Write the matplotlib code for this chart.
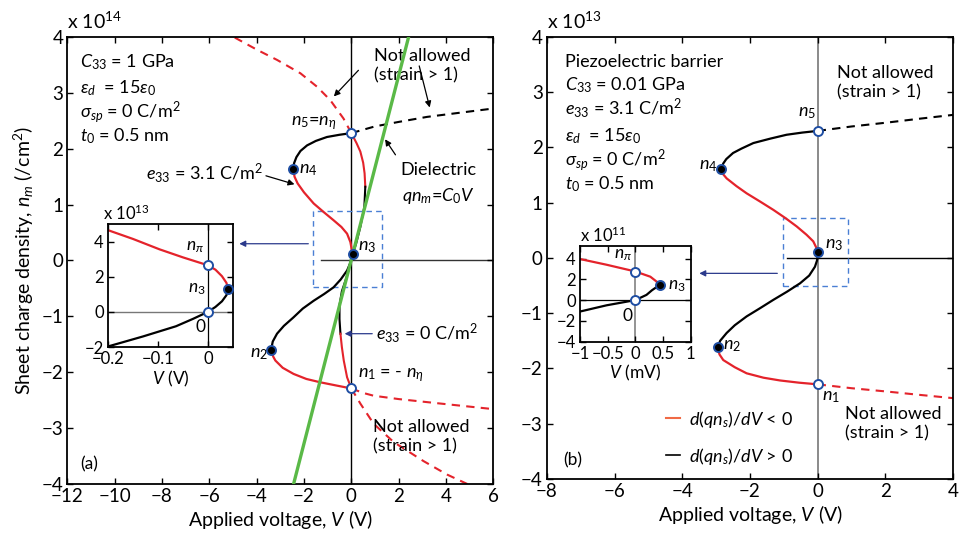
import matplotlib
matplotlib.use("Agg")
import matplotlib.pyplot as plt
from matplotlib.patches import Rectangle
from matplotlib.lines import Line2D

plt.rcParams['font.family'] = ['Lato', 'DejaVu Sans']
plt.rcParams['mathtext.fontset'] = 'custom'
plt.rcParams['mathtext.rm'] = 'Lato'
plt.rcParams['mathtext.it'] = 'Lato:italic'
plt.rcParams['mathtext.bf'] = 'Lato:bold'
plt.rcParams['mathtext.fallback'] = 'stixsans'

RED = '#e4232b'
BLUE = '#1f4ea3'
BOX = '#4a7fd4'
NAVY = '#2b3a8c'
GREEN = '#5ab947'

# ---------- panel (a): V in volts, n in 1e14 /cm^2 ----------
a_top_black_v = [0.0, -0.5, -1.03, -1.5, -1.87, -2.15, -2.32, -2.42, -2.45]
a_top_black_n = [2.28, 2.25, 2.21, 2.14, 2.06, 1.96, 1.85, 1.74, 1.63]
a_mid_red_v = [-2.45, -2.4, -2.27, -2.0, -1.59, -1.15, -0.75, -0.42, -0.18, -0.04, 0.05]
a_mid_red_n = [1.63, 1.5, 1.38, 1.22, 1.02, 0.86, 0.72, 0.6, 0.48, 0.33, 0.12]
a_low_black_v = [0.05, -0.05, -0.18, -0.45, -0.75, -1.15, -1.59, -2.05, -2.45, -2.85, -3.14, -3.32, -3.39]
a_low_black_n = [0.12, -0.05, -0.18, -0.34, -0.48, -0.6, -0.72, -0.86, -1.02, -1.17, -1.31, -1.45, -1.6]
a_bot_red_v = [-3.39, -3.3, -3.21, -2.9, -2.44, -1.9, -1.31, -0.6, 0.0]
a_bot_red_n = [-1.6, -1.72, -1.79, -1.92, -2.03, -2.12, -2.18, -2.24, -2.29]

# e33 = 0 curve
a0_top_red_v = [0.0, 0.22, 0.38, 0.5, 0.56, 0.59]
a0_top_red_n = [2.28, 2.1, 1.95, 1.75, 1.56, 1.32]
a0_black_v = [0.59, 0.55, 0.38, 0.2, 0.05, -0.2, -0.4, -0.5, -0.5, -0.46]
a0_black_n = [1.32, 0.96, 0.6, 0.3, 0.1, -0.3, -0.55, -0.8, -1.05, -1.31]
a0_bot_red_v = [-0.46, -0.4, -0.32, -0.18, 0.0]
a0_bot_red_n = [-1.31, -1.55, -1.79, -2.09, -2.29]

# not allowed branches
a_dash_black_v = [0.0, 1.0, 2.0, 3.2, 4.5, 6.0]
a_dash_black_n = [2.28, 2.4, 2.48, 2.57, 2.64, 2.72]
a_dash_red_up_v = [0.0, -0.33, -0.89, -1.45, -2.15, -3.14, -3.98, -4.97]
a_dash_red_up_n = [2.28, 2.54, 2.87, 3.11, 3.35, 3.59, 3.77, 4.0]
a_dash_red_r_v = [0.0, 0.5, 0.94, 2.0, 3.76, 6.0]
a_dash_red_r_n = [-2.29, -2.37, -2.42, -2.48, -2.56, -2.66]
a_dash_red_dn_v = [0.0, 0.38, 0.94, 1.79, 3.05, 4.04, 4.9]
a_dash_red_dn_n = [-2.29, -2.56, -2.92, -3.25, -3.59, -3.83, -4.0]

# dielectric line qn = C0 V
diel_v = [-2.44, 2.42]
diel_n = [-4.0, 4.0]

a_open_v = [0.0, 0.0]
a_open_n = [2.28, -2.29]
a_fill_v = [-2.45, 0.05, -3.39]
a_fill_n = [1.63, 0.12, -1.6]

# inset (a): V in volts, n in 1e13
ia_red_v = [-0.2, -0.15, -0.097, -0.05, 0.0, 0.015, 0.028, 0.037, 0.04]
ia_red_n = [4.65, 4.15, 3.56, 3.1, 2.65, 2.4, 2.03, 1.65, 1.31]
ia_black_v = [0.04, 0.037, 0.028, 0.015, 0.0, -0.03, -0.064, -0.13, -0.2]
ia_black_n = [1.31, 0.95, 0.6, 0.28, 0.0, -0.4, -0.82, -1.4, -1.97]
ia_open_v = [0.0, 0.0]
ia_open_n = [2.65, 0.0]
ia_fill_v = [0.04]
ia_fill_n = [1.31]

# ---------- panel (b): V in volts, n in 1e13 /cm^2 ----------
b_top_black_v = [0.0, -0.45, -0.92, -1.4, -1.9, -2.25, -2.5, -2.7, -2.79, -2.86]
b_top_black_n = [2.3, 2.27, 2.23, 2.16, 2.08, 1.98, 1.9, 1.79, 1.71, 1.61]
b_mid_red_v = [-2.86, -2.8, -2.69, -2.4, -2.1, -1.7, -1.31, -0.95, -0.62, -0.33, -0.13, 0.02]
b_mid_red_n = [1.61, 1.52, 1.44, 1.3, 1.17, 1.02, 0.87, 0.72, 0.57, 0.42, 0.3, 0.11]
b_low_black_v = [0.02, -0.02, -0.08, -0.25, -0.52, -0.9, -1.31, -1.7, -2.1, -2.45, -2.69, -2.88, -2.96]
b_low_black_n = [0.11, -0.05, -0.16, -0.32, -0.46, -0.61, -0.76, -0.91, -1.06, -1.22, -1.36, -1.5, -1.62]
b_bot_red_v = [-2.96, -2.9, -2.79, -2.45, -2.1, -1.6, -1.11, -0.55, 0.0]
b_bot_red_n = [-1.62, -1.75, -1.85, -1.98, -2.09, -2.17, -2.22, -2.26, -2.29]
b_dash_black_v = [0.0, 1.0, 2.04, 3.0, 4.0]
b_dash_black_n = [2.3, 2.38, 2.45, 2.52, 2.59]
b_dash_red_v = [0.0, 1.0, 2.04, 3.0, 4.0]
b_dash_red_n = [-2.29, -2.36, -2.42, -2.48, -2.54]
b_open_v = [0.0, 0.0]
b_open_n = [2.3, -2.29]
b_fill_v = [-2.86, 0.02, -2.96]
b_fill_n = [1.61, 0.11, -1.62]

# inset (b): V in mV, n in 1e11
ib_red_v = [-1.0, -0.52, 0.0, 0.27, 0.45]
ib_red_n = [3.95, 3.4, 2.75, 2.25, 1.5]
ib_black_v = [0.45, 0.3, 0.2, 0.0, -0.52, -1.0]
ib_black_n = [1.5, 0.95, 0.5, 0.0, -0.5, -1.1]
ib_open_v = [0.0, 0.0]
ib_open_n = [2.75, 0.0]
ib_fill_v = [0.45]
ib_fill_n = [1.5]


def style_axes(ax, size, lw=1.3):
    ax.tick_params(direction='in', top=True, right=True, length=4,
                   width=1, labelsize=size, pad=3)
    for s in ax.spines.values():
        s.set_linewidth(lw)


def markers(ax, ov, on, fv, fn, ms=6.5):
    ax.plot(ov, on, 'o', ms=ms, mfc='white', mec=BLUE, mew=1.4, zorder=6)
    ax.plot(fv, fn, 'o', ms=ms, mfc='black', mec=BLUE, mew=1.4, zorder=6)


def arrow(ax, head, tail, color='black'):
    ax.annotate('', xy=head, xytext=tail,
                arrowprops=dict(arrowstyle='-|>', color=color, lw=0.9,
                                mutation_scale=9))


fig = plt.figure(figsize=(9.63, 5.36), dpi=100)
fs = 13

# ================= panel (a) =================
ax = fig.add_axes([0.0699, 0.097, 0.4424, 0.834])
ax.set_xlim(-12, 6)
ax.set_ylim(-4, 4)
ax.set_xticks(range(-12, 7, 2))
ax.set_yticks(range(-4, 5))
style_axes(ax, 13.5)

ax.axvline(0, color='black', lw=1, zorder=1)
ax.plot([-1.27, 6], [0, 0], color='#333333', lw=1, zorder=1)
ax.add_patch(Rectangle((-1.63, -0.47), 2.93, 1.35, fill=False,
                       ec=BOX, ls=(0, (4, 3)), lw=1, zorder=2))

ax.plot(a_dash_black_v, a_dash_black_n, color='black', lw=1.5, ls=(0, (4, 3)))
ax.plot(a_dash_red_up_v, a_dash_red_up_n, color=RED, lw=1.5, ls=(0, (4, 3)))
ax.plot(a_dash_red_r_v, a_dash_red_r_n, color=RED, lw=1.5, ls=(0, (4, 3)))
ax.plot(a_dash_red_dn_v, a_dash_red_dn_n, color=RED, lw=1.5, ls=(0, (4, 3)))

ax.plot(a0_top_red_v, a0_top_red_n, color=RED, lw=1.5)
ax.plot(a0_black_v, a0_black_n, color='black', lw=1.5)
ax.plot(a0_bot_red_v, a0_bot_red_n, color=RED, lw=1.5)

ax.plot(a_top_black_v, a_top_black_n, color='black', lw=1.6)
ax.plot(a_mid_red_v, a_mid_red_n, color=RED, lw=1.6)
ax.plot(a_low_black_v, a_low_black_n, color='black', lw=1.6)
ax.plot(a_bot_red_v, a_bot_red_n, color=RED, lw=1.6)

ax.plot(diel_v, diel_n, color=GREEN, lw=2.4, zorder=4)

markers(ax, a_open_v, a_open_n, a_fill_v, a_fill_n)

ax.text(0, 1.012, r'x 10$^{14}$', transform=ax.transAxes, fontsize=14,
        ha='left', va='bottom')
ax.text(-11.45, 3.55, r'$C_{\mathit{33}}$ = 1 GPa', fontsize=fs, va='center')
ax.text(-11.45, 3.08, r'$\epsilon_d$  = 15$\epsilon_{\mathit{0}}$', fontsize=fs, va='center')
ax.text(-11.45, 2.66, r'$\sigma_{sp}$ = 0 C/m$^2$', fontsize=fs, va='center')
ax.text(-11.45, 2.22, r'$t_{\mathit{0}}$ = 0.5 nm', fontsize=fs, va='center')

ax.text(0.95, 3.48, 'Not allowed\n(strain > 1)', fontsize=fs, va='center',
        linespacing=1.25)
arrow(ax, (-0.82, 2.9), (0.38, 3.44))
arrow(ax, (3.34, 2.69), (2.84, 3.53))

ax.text(-2.55, 2.46, r'$n_5$=$n_\eta$', fontsize=fs, va='center')
ax.text(-2.2, 1.62, r'$n_4$', fontsize=fs, va='center')
ax.text(-3.75, 1.56, r'$e_{\mathit{33}}$ = 3.1 C/m$^2$', fontsize=fs,
        va='center', ha='right')
arrow(ax, (-2.29, 1.35), (-3.72, 1.53))
ax.text(3.68, 1.62, 'Dielectric', fontsize=fs, va='center', ha='center')
ax.text(3.68, 1.15, r'$qn_m$=$C_{\mathit{0}}V$', fontsize=fs, va='center',
        ha='center')
arrow(ax, (1.36, 2.21), (1.93, 1.85))
ax.text(0.3, 0.24, r'$n_3$', fontsize=fs, va='center')
ax.text(1.05, -1.29, r'$e_{\mathit{33}}$ = 0 C/m$^2$', fontsize=fs, va='center')
arrow(ax, (-0.4, -1.31), (1.0, -1.31), NAVY)
ax.text(-3.5, -1.68, r'$n_2$', fontsize=fs, va='center', ha='right')
ax.text(0.3, -2.05, r'$n_1$ = - $n_\eta$', fontsize=fs, va='center')
ax.text(0.9, -3.15, 'Not allowed\n(strain > 1)', fontsize=fs, va='center',
        linespacing=1.25)
ax.text(-11.45, -3.64, '(a)', fontsize=12.5, va='center')
arrow(ax, (-4.85, 0.3), (-1.7, 0.3), NAVY)

ax.set_xlabel(r'Applied voltage, $V$ (V)', fontsize=14, labelpad=2)
ax.set_ylabel(r'Sheet charge density, $n_m$ (/cm$^2$)', fontsize=14,
              labelpad=4)

# inset (a)
ia = fig.add_axes([0.1121, 0.3526, 0.1298, 0.2295])
ia.set_xlim(-0.2, 0.05)
ia.set_ylim(-2, 5)
ia.set_xticks([-0.2, -0.1, 0])
ia.set_xticklabels(['\u22120.2', '\u22120.1', '0'])
ia.set_yticks([-2, 0, 2, 4])
style_axes(ia, 12)
ia.axvline(0, color='black', lw=0.9, zorder=1)
ia.axhline(0, color='#777777', lw=1, zorder=1)
ia.plot(ia_red_v, ia_red_n, color=RED, lw=1.6)
ia.plot(ia_black_v, ia_black_n, color='black', lw=1.6)
markers(ia, ia_open_v, ia_open_n, ia_fill_v, ia_fill_n)
ia.text(-0.008, 3.7, r'$n_\pi$', fontsize=12.5, ha='right', va='center')
ia.text(-0.005, 1.3, r'$n_3$', fontsize=12.5, ha='right', va='center')
ia.text(-0.015, -0.85, '0', fontsize=12.5, ha='center', va='center')
ia.text(-0.04, 1.01, r'x 10$^{13}$', transform=ia.transAxes, fontsize=12,
        ha='left', va='bottom')
ia.set_xlabel(r'$V$ (V)', fontsize=12.5, labelpad=1)

# ================= panel (b) =================
bx = fig.add_axes([0.568, 0.1068, 0.4216, 0.8241])
bx.set_xlim(-8, 4)
bx.set_ylim(-4, 4)
bx.set_xticks(range(-8, 5, 2))
bx.set_yticks(range(-4, 5))
style_axes(bx, 13.5)

bx.axvline(0, color='#777777', lw=1.2, zorder=1)
bx.plot([-0.92, 4], [0, 0], color='black', lw=1, zorder=1)
bx.add_patch(Rectangle((-1.03, -0.51), 1.92, 1.23, fill=False,
                       ec=BOX, ls=(0, (4, 3)), lw=1, zorder=2))

bx.plot(b_dash_black_v, b_dash_black_n, color='black', lw=1.5, ls=(0, (4, 3)))
bx.plot(b_dash_red_v, b_dash_red_n, color=RED, lw=1.5, ls=(0, (4, 3)))
bx.plot(b_top_black_v, b_top_black_n, color='black', lw=1.6)
bx.plot(b_mid_red_v, b_mid_red_n, color=RED, lw=1.6)
bx.plot(b_low_black_v, b_low_black_n, color='black', lw=1.6)
bx.plot(b_bot_red_v, b_bot_red_n, color=RED, lw=1.6)
markers(bx, b_open_v, b_open_n, b_fill_v, b_fill_n)

bx.text(0, 1.012, r'x 10$^{13}$', transform=bx.transAxes, fontsize=14,
        ha='left', va='bottom')
bx.text(-7.47, 3.55, 'Piezoelectric barrier', fontsize=fs, va='center')
bx.text(-7.47, 3.13, r'$C_{\mathit{33}}$ = 0.01 GPa', fontsize=fs, va='center')
bx.text(-7.47, 2.71, r'$e_{\mathit{33}}$ = 3.1 C/m$^2$', fontsize=fs, va='center')
bx.text(-7.47, 2.21, r'$\epsilon_d$  = 15$\epsilon_{\mathit{0}}$', fontsize=fs, va='center')
bx.text(-7.47, 1.77, r'$\sigma_{sp}$ = 0 C/m$^2$', fontsize=fs, va='center')
bx.text(-7.47, 1.34, r'$t_{\mathit{0}}$ = 0.5 nm', fontsize=fs, va='center')
bx.text(0.56, 3.17, 'Not allowed\n(strain > 1)', fontsize=fs, va='center',
        linespacing=1.25)
bx.text(-0.05, 2.62, r'$n_5$', fontsize=fs, ha='right', va='center')
bx.text(-2.95, 1.66, r'$n_4$', fontsize=fs, ha='right', va='center')
bx.text(0.22, 0.24, r'$n_3$', fontsize=fs, va='center')
bx.text(-2.8, -1.6, r'$n_2$', fontsize=fs, va='center')
bx.text(0.13, -2.52, r'$n_1$', fontsize=fs, va='center')
bx.text(0.8, -3.0, 'Not allowed\n(strain > 1)', fontsize=fs, va='center',
        linespacing=1.25)
bx.text(-7.52, -3.66, '(b)', fontsize=12.5, va='center')
arrow(bx, (-3.58, -0.28), (-1.11, -0.28), NAVY)
handles = [Line2D([], [], color='#f06a45', lw=1.5),
           Line2D([], [], color='black', lw=1.2)]
bx.legend(handles, [r'$d(qn_s)/dV$ < $\mathit{0}$', r'$d(qn_s)/dV$ > $\mathit{0}$'],
          loc='center left', bbox_to_anchor=(0.27, 0.093), frameon=False,
          fontsize=13, handlelength=0.8, handletextpad=0.5,
          labelspacing=0.9, borderpad=0)
bx.set_xlabel(r'Applied voltage, $V$ (V)', fontsize=14, labelpad=2)

# inset (b)
ib = fig.add_axes([0.6023, 0.3625, 0.115, 0.1785])
ib.set_xlim(-1, 1)
ib.set_ylim(-4, 5.2)
ib.set_xticks([-1, -0.5, 0, 0.5, 1])
ib.set_xticklabels(['\u22121', '\u22120.5', '0', '0.5', '1'])
ib.set_yticks([-4, -2, 0, 2, 4])
style_axes(ib, 12)
ib.axvline(0, color='#777777', lw=1.1, zorder=1)
ib.axhline(0, color='black', lw=0.9, zorder=1)
ib.plot(ib_red_v, ib_red_n, color=RED, lw=1.6)
ib.plot(ib_black_v, ib_black_n, color='black', lw=1.6)
markers(ib, ib_open_v, ib_open_n, ib_fill_v, ib_fill_n)
ib.text(-0.06, 4.3, r'$n_\pi$', fontsize=12.5, ha='right', va='center')
ib.text(0.58, 1.35, r'$n_3$', fontsize=12.5, ha='left', va='center')
ib.text(-0.15, -1.5, '0', fontsize=12.5, ha='center', va='center')
ib.text(0.0, 1.01, r'x 10$^{11}$', transform=ib.transAxes, fontsize=12,
        ha='left', va='bottom')
ib.set_xlabel(r'$V$ (mV)', fontsize=12.5, labelpad=1)

fig.savefig('out.png', dpi=100)
